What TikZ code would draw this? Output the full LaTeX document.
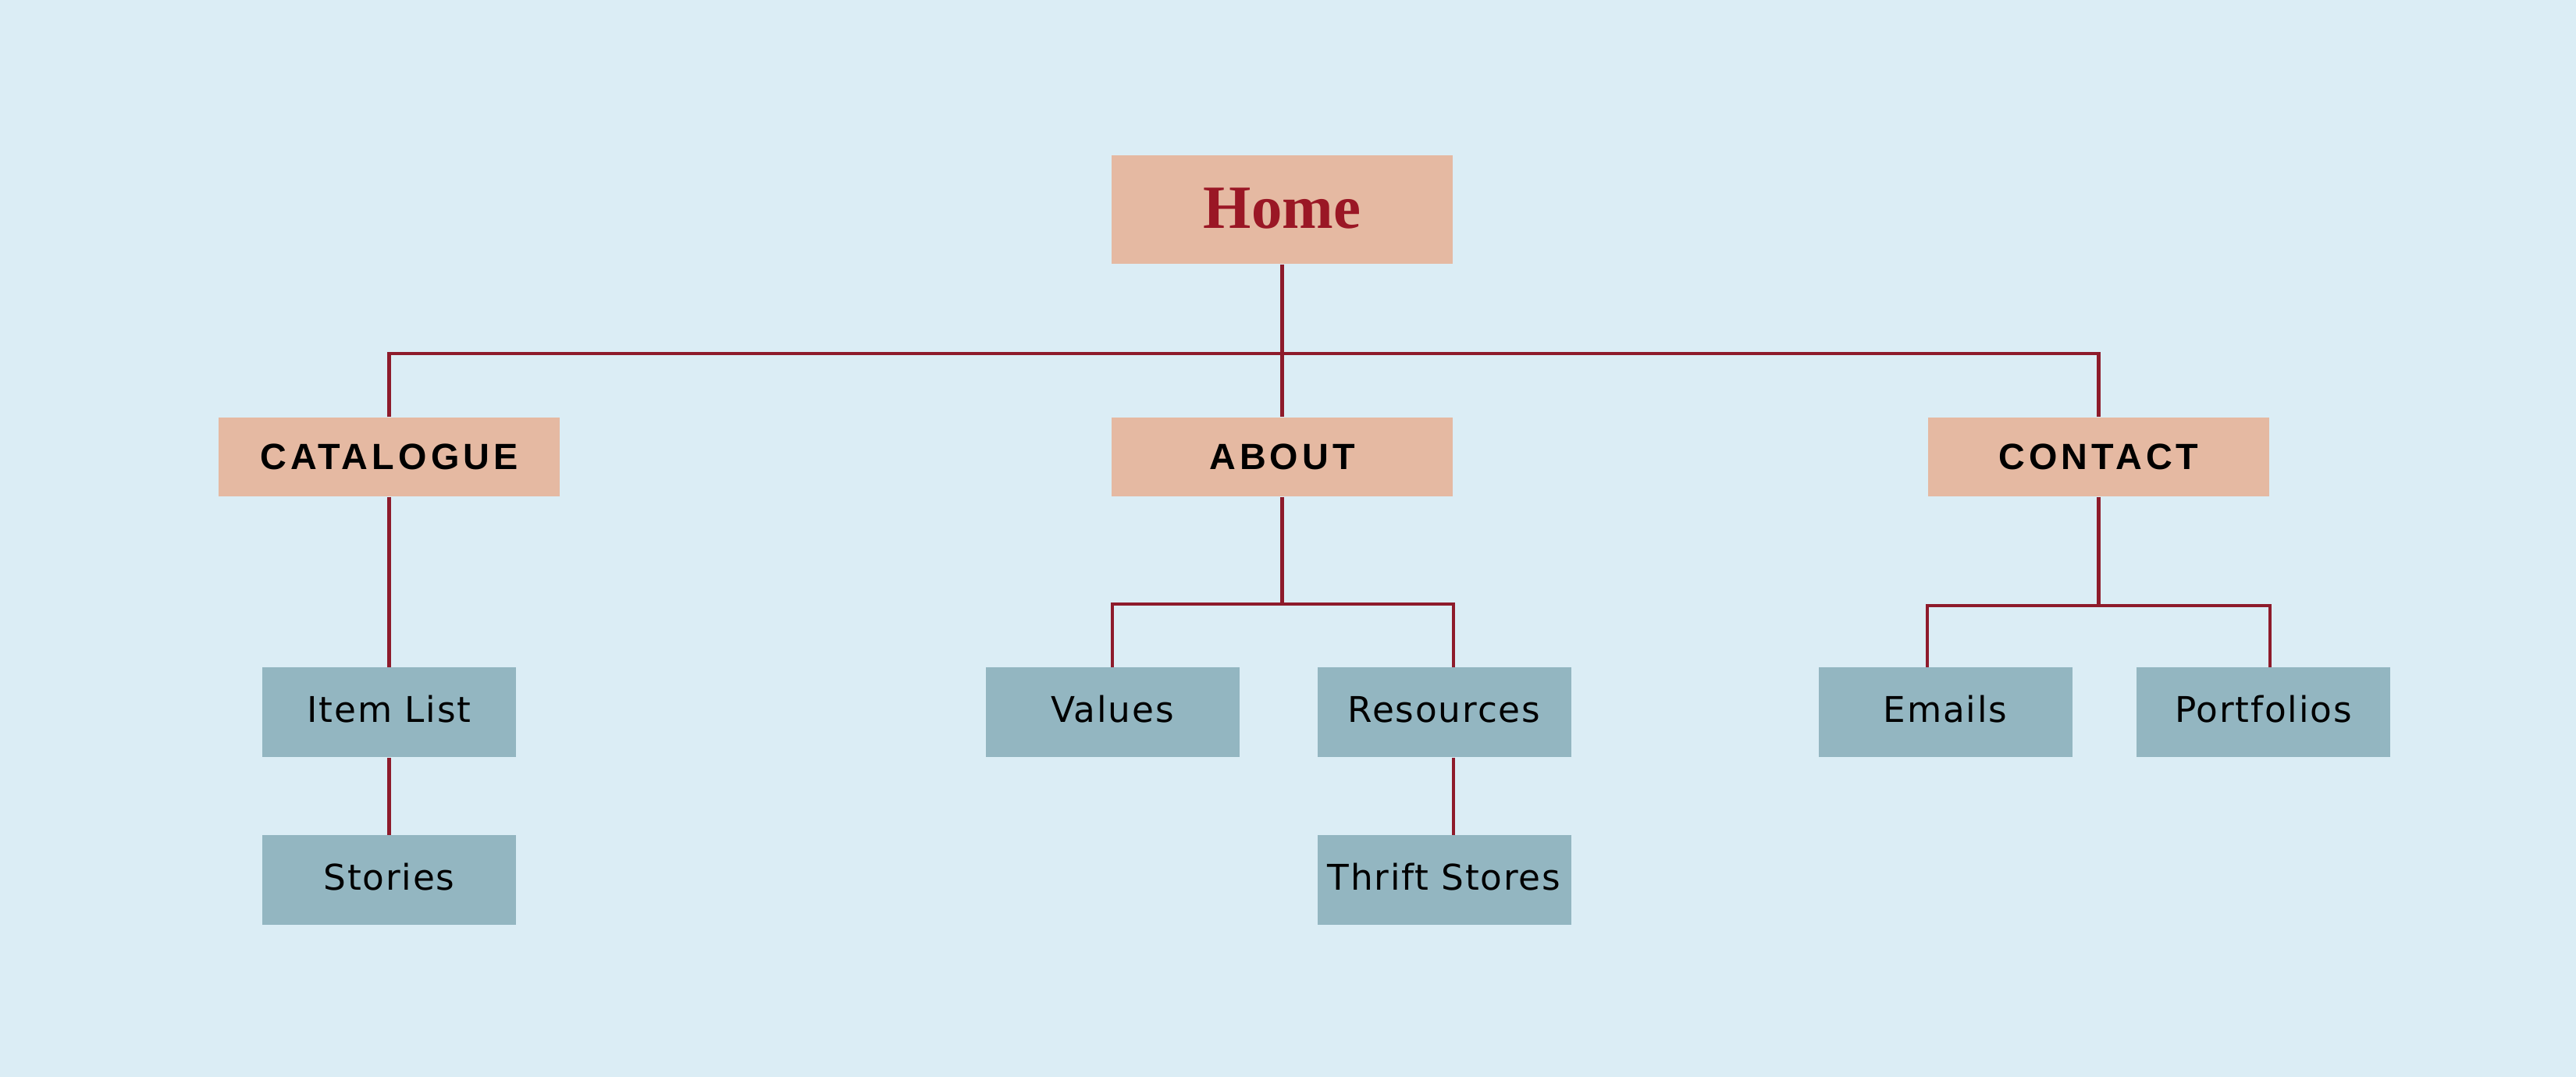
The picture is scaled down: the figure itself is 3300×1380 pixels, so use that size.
\documentclass[tikz,border=0pt]{standalone}
\usepackage{fontspec}
\newfontfamily\homefont{Liberation Serif}
\newfontfamily\navfont[LetterSpace=11]{Liberation Sans}
\newfontfamily\leaffont[LetterSpace=4]{DejaVu Sans}
\definecolor{bgc}{HTML}{DBEDF5}
\definecolor{peach}{HTML}{E5B9A2}
\definecolor{slate}{HTML}{93B6C1}
\definecolor{wire}{HTML}{8E1B2B}
\definecolor{hometxt}{HTML}{9A1725}
\tikzset{
  homebox/.style={fill=peach, minimum width=437*0.01cm, minimum height=139*0.01cm, inner sep=0pt,
    text height=15.2pt, text depth=1.6pt,
    font=\homefont\bfseries\fontsize{22.4pt}{24pt}\selectfont, text=hometxt},
  navbox/.style={fill=peach, minimum width=437*0.01cm, minimum height=101*0.01cm, inner sep=0pt,
    text height=9.5pt, text depth=0.4pt,
    font=\navfont\bfseries\fontsize{13.3pt}{15pt}\selectfont, text=black},
  leafbox/.style={fill=slate, minimum width=325*0.01cm, minimum height=115*0.01cm, inner sep=0pt,
    text height=9.4pt, text depth=2.4pt,
    font=\leaffont\fontsize{12.9pt}{15pt}\selectfont, text=black},
  wireline/.style={draw=wire, line width=1.2pt}
}
\begin{document}
\begin{tikzpicture}[x=0.01cm,y=-0.01cm]
\fill[bgc] (0,0) rectangle (3300,1380);
\useasboundingbox (0,0) rectangle (3300,1380);
% nodes
\node[homebox] (home) at (1642.5,268.5) {Home};
\node[navbox] (cat) at (498.5,585.5) {CATALOGUE};
\node[navbox] (about) at (1642.5,585.5) {ABOUT};
\node[navbox] (contact) at (2688.5,585.5) {CONTACT};
\node[leafbox] (itemlist) at (498.5,913) {Item List};
\node[leafbox] (stories) at (498.5,1128) {Stories};
\node[leafbox] (values) at (1425,913) {Values};
\node[leafbox] (resources) at (1850,913) {Resources};
\node[leafbox] (thrift) at (1850,1128) {Thrift Stores};
\node[leafbox] (emails) at (2492,913) {Emails};
\node[leafbox] (portfolios) at (2899.5,913) {Portfolios};
% bus coordinates
\coordinate (topbus) at (1642.5,453);
\coordinate (aboutbus) at (1642.5,774);
\coordinate (contactbus) at (2688.5,776);
% connectors
\draw[wireline] (home.south) -- (about.north);
\draw[wireline] (cat.north) |- (topbus) -| (contact.north);
\draw[wireline] (cat.south) -- (itemlist.north);
\draw[wireline] (itemlist.south) -- (stories.north);
\draw[wireline] (about.south) -- (aboutbus);
\draw[wireline] (values.north) |- (aboutbus) -| (about.east |- resources.north);
\draw[wireline] (about.east |- resources.south) -- (about.east |- thrift.north);
\draw[wireline] (contact.south) -- (contactbus);
\draw[wireline] (contact.west |- emails.north) |- (contactbus) -| (contact.east |- portfolios.north);
\end{tikzpicture}
\end{document}
